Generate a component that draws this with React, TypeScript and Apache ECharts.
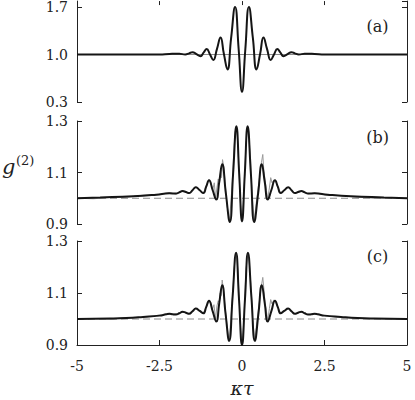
import React, { useEffect, useRef } from "react";
import * as echarts from "echarts";

// ---- data ----
const xTicks = [-5, -2.5, 0, 2.5, 5];
const yTicksA = [0.3, 1.0, 1.7];
const yTicksBC = [0.9, 1.1, 1.3];
const panelLabels = ["(a)", "(b)", "(c)"];

const theoryA: [number, number][] = [
  [-5, 1.0], [-3, 1.0], [-2.5, 1.0], [-2.2, 1.008], [-1.9, 1.012], [-1.72, 1.0], [-1.6, 1.017],
  [-1.5, 1.035], [-1.38, 1.005], [-1.26, 0.975], [-1.16, 1.03], [-1.07, 1.08], [-0.97, 1.0],
  [-0.87, 0.92], [-0.76, 1.08], [-0.65, 1.25], [-0.55, 1.01], [-0.44, 0.78], [-0.33, 1.24],
  [-0.21, 1.7], [-0.1, 1.07], [0, 0.45], [0.1, 1.07], [0.21, 1.7], [0.33, 1.24], [0.44, 0.78],
  [0.55, 1.01], [0.65, 1.25], [0.76, 1.08], [0.87, 0.92], [0.97, 1.0], [1.07, 1.08], [1.16, 1.03],
  [1.26, 0.975], [1.38, 1.005], [1.5, 1.035], [1.6, 1.017], [1.72, 1.0], [1.9, 1.012], [2.2, 1.008],
  [2.5, 1.0], [3, 1.0], [5, 1.0],
];

const theoryB: [number, number][] = [
  [-5, 1.0], [-4.3, 1.003], [-3.3, 1.008], [-2.6, 1.014], [-2.2, 1.019], [-2.0, 1.018], [-1.9, 1.023],
  [-1.8, 1.028], [-1.7, 1.024], [-1.6, 1.02], [-1.5, 1.031], [-1.4, 1.043], [-1.28, 1.031],
  [-1.17, 1.02], [-1.085, 1.045], [-1.0, 1.07], [-0.89, 1.032], [-0.78, 0.995], [-0.69, 1.063],
  [-0.6, 1.132], [-0.49, 1.02], [-0.37, 0.908], [-0.27, 1.094], [-0.17, 1.28], [-0.085, 1.095],
  [0, 0.91], [0.085, 1.095], [0.17, 1.28], [0.27, 1.094], [0.37, 0.908], [0.49, 1.02], [0.6, 1.132],
  [0.69, 1.063], [0.78, 0.995], [0.89, 1.032], [1.0, 1.07], [1.085, 1.045], [1.17, 1.02],
  [1.28, 1.031], [1.4, 1.043], [1.5, 1.031], [1.6, 1.02], [1.7, 1.024], [1.8, 1.028], [1.9, 1.023],
  [2.0, 1.018], [2.2, 1.019], [2.6, 1.014], [3.3, 1.008], [4.3, 1.003], [5, 1.0],
];

const simB: [number, number][] = [
  [-5, 1.0], [-4.5, 0.998], [-4, 1.003], [-3.5, 1.004], [-3, 1.012], [-2.6, 1.013], [-2.2, 1.022],
  [-2.0, 1.016], [-1.8, 1.03], [-1.6, 1.018], [-1.4, 1.045], [-1.27, 1.03], [-1.17, 1.02],
  [-1.08, 1.05], [-1.0, 1.072], [-0.95, 1.065], [-0.89, 1.03], [-0.84, 1.06], [-0.8, 1.0],
  [-0.76, 1.04], [-0.72, 1.075], [-0.68, 1.06], [-0.65, 1.1], [-0.62, 1.08], [-0.59, 1.15],
  [-0.55, 1.12], [-0.5, 1.04], [-0.45, 0.97], [-0.38, 0.91], [-0.3, 1.05], [-0.24, 1.2],
  [-0.2, 1.26], [-0.17, 1.28], [-0.12, 1.2], [-0.06, 1.0], [0, 0.915], [0.06, 1.02], [0.12, 1.21],
  [0.17, 1.275], [0.21, 1.24], [0.26, 1.15], [0.3, 1.02], [0.37, 0.912], [0.44, 0.99], [0.5, 1.05],
  [0.55, 1.1], [0.59, 1.14], [0.63, 1.17], [0.66, 1.11], [0.7, 1.07], [0.74, 1.03], [0.78, 1.0],
  [0.83, 1.04], [0.87, 1.08], [0.91, 1.06], [0.96, 1.07], [1.02, 1.065], [1.1, 1.04], [1.17, 1.022],
  [1.27, 1.03], [1.4, 1.042], [1.6, 1.02], [1.8, 1.027], [2.0, 1.017], [2.2, 1.02], [2.6, 1.012],
  [3, 1.01], [3.5, 1.004], [4, 1.0], [4.5, 1.002], [5, 1.0],
];

const theoryC: [number, number][] = [
  [-5, 1.0], [-4, 1.002], [-3.5, 1.004], [-3, 1.008], [-2.5, 1.013], [-2.3, 1.018], [-2.2, 1.02],
  [-2.1, 1.018], [-2.0, 1.017], [-1.9, 1.022], [-1.8, 1.028], [-1.7, 1.024], [-1.6, 1.02],
  [-1.5, 1.03], [-1.4, 1.04], [-1.28, 1.031], [-1.17, 1.022], [-1.085, 1.046], [-1.0, 1.07],
  [-0.89, 1.03], [-0.78, 0.99], [-0.69, 1.06], [-0.6, 1.13], [-0.5, 1.023], [-0.39, 0.916],
  [-0.285, 1.085], [-0.18, 1.255], [-0.09, 1.075], [0, 0.9], [0.09, 1.075], [0.18, 1.255],
  [0.285, 1.085], [0.39, 0.916], [0.5, 1.023], [0.6, 1.13], [0.69, 1.06], [0.78, 0.99],
  [0.89, 1.03], [1.0, 1.07], [1.085, 1.046], [1.17, 1.022], [1.28, 1.031], [1.4, 1.04],
  [1.5, 1.03], [1.6, 1.02], [1.7, 1.024], [1.8, 1.028], [1.9, 1.022], [2.0, 1.017], [2.1, 1.018],
  [2.2, 1.02], [2.3, 1.018], [2.5, 1.013], [3, 1.008], [3.5, 1.004], [4, 1.002], [5, 1.0],
];

const simC: [number, number][] = [
  [-5, 1.0], [-4.5, 1.002], [-4, 0.999], [-3.5, 1.006], [-3, 1.006], [-2.5, 1.015], [-2.2, 1.018],
  [-2.0, 1.02], [-1.8, 1.026], [-1.6, 1.022], [-1.4, 1.042], [-1.27, 1.028], [-1.17, 1.024],
  [-1.08, 1.048], [-1.0, 1.068], [-0.95, 1.06], [-0.9, 1.035], [-0.85, 1.055], [-0.8, 1.0],
  [-0.76, 1.05], [-0.72, 1.07], [-0.69, 1.065], [-0.66, 1.1], [-0.63, 1.09], [-0.6, 1.15],
  [-0.56, 1.11], [-0.5, 1.03], [-0.45, 0.97], [-0.39, 0.915], [-0.3, 1.06], [-0.24, 1.19],
  [-0.2, 1.24], [-0.17, 1.255], [-0.12, 1.18], [-0.06, 1.0], [0, 0.9], [0.06, 1.0], [0.12, 1.19],
  [0.18, 1.25], [0.22, 1.22], [0.27, 1.13], [0.32, 1.0], [0.39, 0.918], [0.45, 0.99], [0.5, 1.04],
  [0.55, 1.09], [0.59, 1.13], [0.63, 1.16], [0.66, 1.12], [0.7, 1.06], [0.74, 1.03], [0.78, 0.995],
  [0.83, 1.04], [0.87, 1.075], [0.91, 1.058], [0.96, 1.072], [1.02, 1.065], [1.1, 1.042],
  [1.17, 1.024], [1.27, 1.03], [1.4, 1.04], [1.6, 1.021], [1.8, 1.027], [2.0, 1.018], [2.2, 1.019],
  [2.6, 1.011], [3, 1.006], [3.5, 1.003], [4, 1.001], [4.5, 1.0], [5, 1.0],
];

const FONT = "DejaVu Serif";
const TEXT = "#222";
const AX = "#222";

export default function App() {
  const ref = useRef<HTMLDivElement>(null);

  useEffect(() => {
    if (!ref.current) return;
    const chart = echarts.init(ref.current, undefined, { renderer: "svg" });

    const grids = [
      { left: 77, right: 8, top: 0, height: 102 },
      { left: 77, right: 8, top: 121, height: 103 },
      { left: 77, right: 8, top: 241, height: 104 },
    ];
    const yRanges = [
      { min: yTicksA[0], max: 1.7875, interval: yTicksA[1] - yTicksA[0], ticks: yTicksA },
      { min: yTicksBC[0], max: yTicksBC[2], interval: 0.2, ticks: yTicksBC },
      { min: yTicksBC[0], max: yTicksBC[2], interval: 0.2, ticks: yTicksBC },
    ];

    const baseX = {
      type: "value" as const,
      min: xTicks[0],
      max: xTicks[xTicks.length - 1],
      interval: 2.5,
      splitLine: { show: false },
    };

    const xAxis = [
      {
        ...baseX,
        gridIndex: 0,
        position: "top",
        axisLine: { show: false, onZero: false },
        axisTick: { show: true, inside: true, length: 4, lineStyle: { color: AX } },
        axisLabel: { show: false },
      },
      { ...baseX, gridIndex: 1, show: false },
      {
        ...baseX,
        gridIndex: 2,
        position: "bottom",
        axisLine: { show: true, onZero: false, lineStyle: { color: AX, width: 1 } },
        axisTick: { show: true, inside: true, length: 5, lineStyle: { color: AX } },
        axisLabel: {
          margin: 14,
          fontFamily: FONT,
          fontSize: 14,
          color: TEXT,
          formatter: (v: number) => String(v),
        },
      },
    ];

    const yAxis: any[] = [];
    yRanges.forEach((r, i) => {
      const fmt = (v: number) =>
        r.ticks.some((t) => Math.abs(t - v) < 1e-6) ? v.toFixed(1) : "";
      yAxis.push({
        type: "value",
        gridIndex: i,
        position: "left",
        min: r.min,
        max: r.max,
        interval: r.interval,
        splitLine: { show: false },
        axisLine: { show: true, onZero: false, lineStyle: { color: AX, width: 1 } },
        axisTick: { show: true, inside: true, length: 5, lineStyle: { color: AX } },
        axisLabel: {
          margin: 9,
          fontFamily: FONT,
          fontSize: 14,
          color: TEXT,
          formatter: fmt,
          showMaxLabel: i === 0 ? false : true,
          showMinLabel: true,
        },
      });
      yAxis.push({
        type: "value",
        gridIndex: i,
        position: "right",
        min: r.min,
        max: r.max,
        interval: r.interval,
        splitLine: { show: false },
        axisLine: { show: true, onZero: false, lineStyle: { color: AX, width: 1 } },
        axisTick: { show: true, inside: true, length: 5, lineStyle: { color: AX } },
        axisLabel: { show: false },
      });
    });

    const refLine = (i: number, dashed: boolean) => ({
      type: "line",
      xAxisIndex: i,
      yAxisIndex: 2 * i,
      data: [
        [xTicks[0], 1.0],
        [xTicks[xTicks.length - 1], 1.0],
      ],
      symbol: "none",
      silent: true,
      lineStyle: { color: "#8a8a8a", width: 1, type: dashed ? [7, 4] : "solid" },
      z: 1,
    });
    const sim = (i: number, data: [number, number][]) => ({
      type: "line",
      xAxisIndex: i,
      yAxisIndex: 2 * i,
      data,
      symbol: "none",
      silent: true,
      smooth: false,
      lineStyle: { color: "#9a9a9a", width: 1 },
      z: 2,
    });
    const theory = (i: number, data: [number, number][]) => ({
      type: "line",
      xAxisIndex: i,
      yAxisIndex: 2 * i,
      data,
      symbol: "none",
      silent: true,
      smooth: 0.5,
      lineStyle: { color: "#151515", width: 2 },
      z: 3,
    });

    const option: any = {
      animation: false,
      backgroundColor: "#ffffff",
      textStyle: { fontFamily: FONT },
      grid: grids,
      xAxis,
      yAxis,
      series: [
        refLine(0, false),
        theory(0, theoryA),
        refLine(1, true),
        sim(1, simB),
        theory(1, theoryB),
        refLine(2, true),
        sim(2, simC),
        theory(2, theoryC),
      ],
      graphic: [
        ...panelLabels.map((t, i) => ({
          type: "text",
          x: 377.5,
          y: [26, 137, 256][i],
          style: {
            text: t,
            fontFamily: FONT,
            fontSize: 16,
            fill: TEXT,
            align: "center",
            verticalAlign: "middle",
          },
        })),
        {
          type: "text",
          x: 242,
          y: 388,
          style: {
            text: "κτ",
            fontFamily: FONT,
            fontStyle: "italic",
            fontSize: 19,
            fill: TEXT,
            align: "center",
            verticalAlign: "middle",
          },
        },
        {
          type: "text",
          x: 2,
          y: 167,
          style: {
            text: "g",
            fontFamily: FONT,
            fontStyle: "italic",
            fontSize: 21,
            fill: TEXT,
            align: "left",
            verticalAlign: "middle",
          },
        },
        {
          type: "text",
          x: 16,
          y: 160,
          style: {
            text: "(2)",
            fontFamily: FONT,
            fontSize: 13,
            fill: TEXT,
            align: "left",
            verticalAlign: "middle",
          },
        },
      ],
    };

    chart.setOption(option);
    return () => chart.dispose();
  }, []);

  return (
    <div
      ref={ref}
      style={{ position: "fixed", left: 0, top: 0, width: 415, height: 400, background: "#fff" }}
    />
  );
}
